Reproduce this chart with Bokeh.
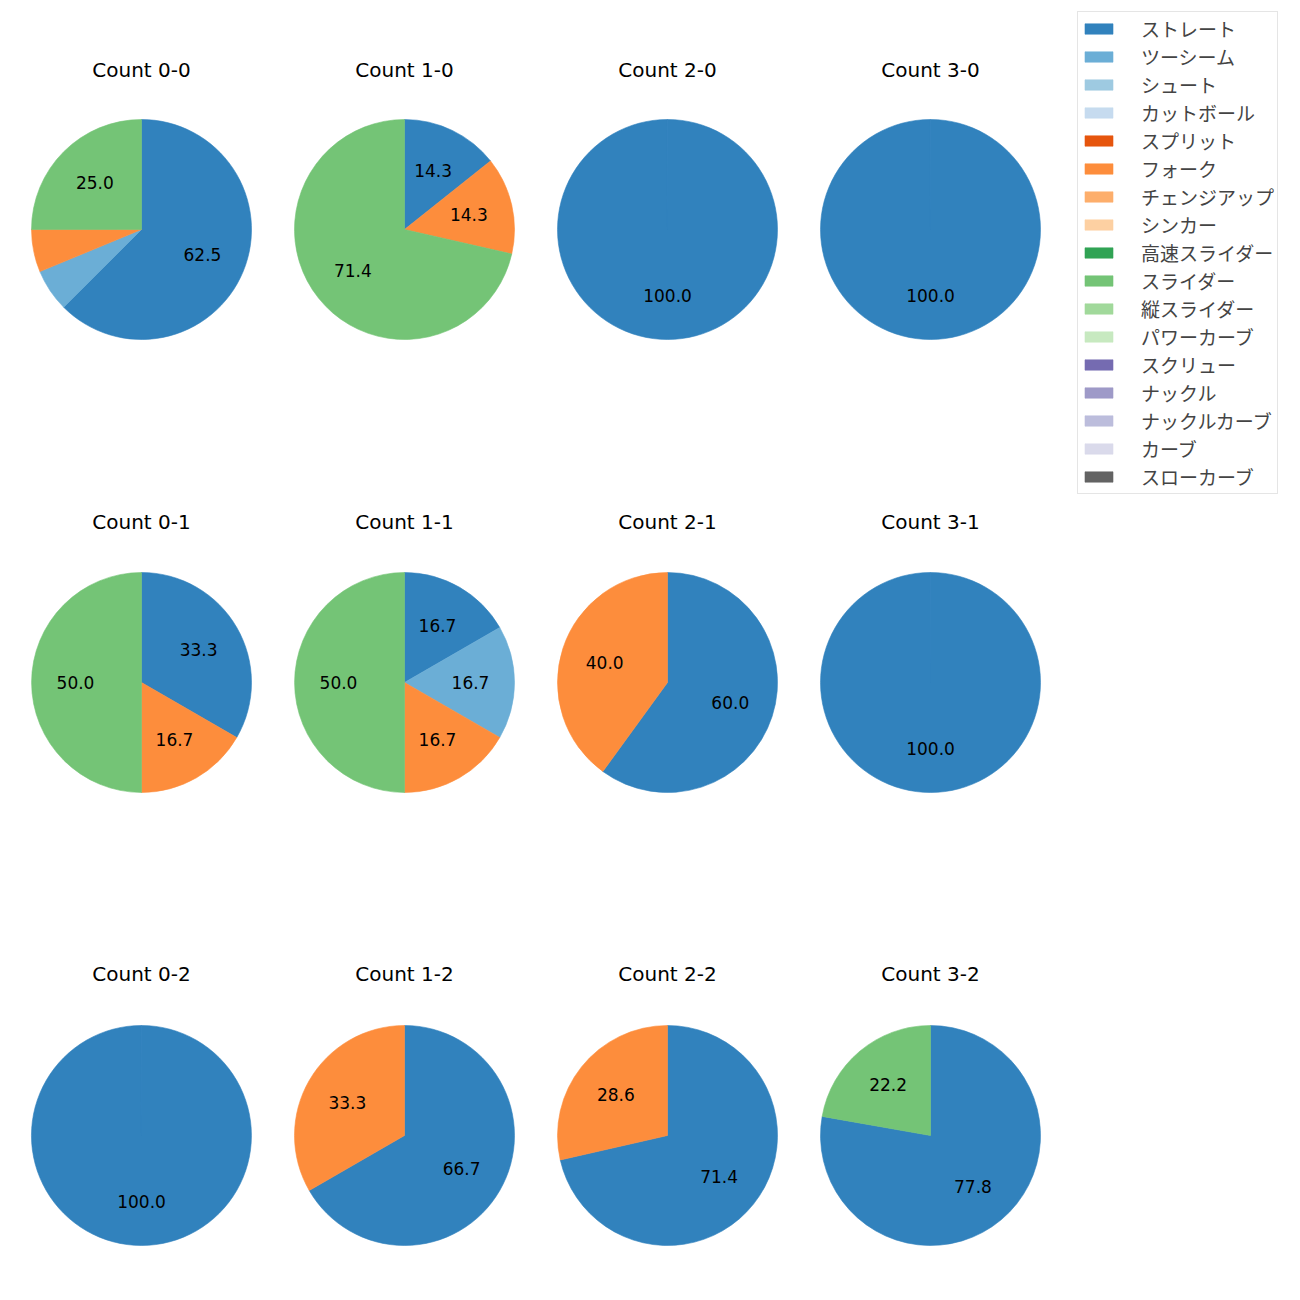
import math
from bokeh.plotting import figure
from bokeh.models import ColumnDataSource, Legend, LegendItem, Range1d
from bokeh.core.properties import value
from bokeh.embed import file_html
from bokeh.resources import INLINE

# ---- data ----
pitch_types = ["ストレート", "ツーシーム", "シュート", "カットボール", "スプリット", "フォーク",
               "チェンジアップ", "シンカー", "高速スライダー", "スライダー", "縦スライダー",
               "パワーカーブ", "スクリュー", "ナックル", "ナックルカーブ", "カーブ", "スローカーブ"]
colors = ["#3182bd", "#6baed6", "#9ecae1", "#c6dbef", "#e6550d", "#fd8d3c", "#fdae6b", "#fdd0a2",
          "#31a354", "#74c476", "#a1d99b", "#c7e9c0", "#756bb1", "#9e9ac8", "#bcbddc", "#dadaeb",
          "#636363"]
count_labels = ["Count 0-0", "Count 1-0", "Count 2-0", "Count 3-0",
                "Count 0-1", "Count 1-1", "Count 2-1", "Count 3-1",
                "Count 0-2", "Count 1-2", "Count 2-2", "Count 3-2"]
# pitches per count (only non-zero types listed)
count_0_0 = {"ストレート": 10, "ツーシーム": 1, "フォーク": 1, "スライダー": 4}
count_1_0 = {"ストレート": 1, "フォーク": 1, "スライダー": 5}
count_2_0 = {"ストレート": 1}
count_3_0 = {"ストレート": 1}
count_0_1 = {"ストレート": 2, "フォーク": 1, "スライダー": 3}
count_1_1 = {"ストレート": 1, "ツーシーム": 1, "フォーク": 1, "スライダー": 3}
count_2_1 = {"ストレート": 3, "フォーク": 2}
count_3_1 = {"ストレート": 1}
count_0_2 = {"ストレート": 1}
count_1_2 = {"ストレート": 2, "フォーク": 1}
count_2_2 = {"ストレート": 5, "フォーク": 2}
count_3_2 = {"ストレート": 7, "スライダー": 2}
counts = [count_0_0, count_1_0, count_2_0, count_3_0,
          count_0_1, count_1_1, count_2_1, count_3_1,
          count_0_2, count_1_2, count_2_2, count_3_2]

# ---- layout (page pixels) ----
W = 1284
col_x = [141, 404, 667, 930]
row_y = [229, 682, 1135]
title_y = [69, 521, 973]
R = 110
LATIN = "DejaVu Sans"
CJK = "Noto Sans CJK JP"

def fy(py):
    return 1300 - py

p = figure(width=W, height=W, output_backend="svg", toolbar_location=None,
           x_range=Range1d(0, W), y_range=Range1d(1300 - W, 1300),
           min_border=0)
p.axis.visible = False
p.xgrid.visible = False
p.ygrid.visible = False
p.outline_line_color = None
p.background_fill_color = "white"

wedge_data = {t: dict(x=[], y=[], start=[], end=[]) for t in pitch_types}
lab = dict(x=[], y=[], text=[])
ttl = dict(x=[], y=[], text=[])

for i, (name, cdict) in enumerate(zip(count_labels, counts)):
    r, c = divmod(i, 4)
    cx, cy = col_x[c], fy(row_y[r])
    ttl["x"].append(cx); ttl["y"].append(fy(title_y[r])); ttl["text"].append(name)
    total = sum(cdict.values())
    cum = 0.0
    for t in pitch_types:
        v = cdict.get(t, 0)
        if v == 0:
            continue
        f0 = cum / total
        f1 = (cum + v) / total
        cum += v
        a0 = math.pi / 2 - 2 * math.pi * f0
        a1 = math.pi / 2 - 2 * math.pi * f1
        if a0 - a1 > 2 * math.pi - 1e-3:
            a1 = a0 - (2 * math.pi - 1e-3)
        d = wedge_data[t]
        d["x"].append(cx); d["y"].append(cy); d["start"].append(a0); d["end"].append(a1)
        pct = 100.0 * v / total
        if pct >= 10:
            mid = (a0 + a1) / 2
            lab["x"].append(cx + 0.6 * R * math.cos(mid))
            lab["y"].append(cy + 0.6 * R * math.sin(mid))
            lab["text"].append("%.1f" % pct)

items = []
for t, col in zip(pitch_types, colors):
    d = wedge_data[t]
    if not d["x"]:
        # placeholder row (not drawn) so that the legend swatch is rendered
        d = dict(x=[float("nan")], y=[float("nan")], start=[0.0], end=[0.0])
    src = ColumnDataSource(d)
    rr = p.wedge(x="x", y="y", radius=R, start_angle="start", end_angle="end",
                 direction="clock", fill_color=col, line_color=col, line_width=0.6,
                 source=src)
    items.append(LegendItem(label=t, renderers=[rr]))

p.text(x="x", y="y", text="text", source=ColumnDataSource(lab),
       text_align="center", text_baseline="middle", text_font=value(LATIN),
       text_font_size="17px", text_color="black")
p.text(x="x", y="y", text="text", source=ColumnDataSource(ttl),
       text_align="center", text_baseline="middle", text_font=value(LATIN),
       text_font_size="20px", text_color="black")

legend = Legend(items=items, location=(1077, 790), orientation="vertical",
                glyph_width=35, glyph_height=13, label_height=20, spacing=1,
                padding=3, label_standoff=25, margin=0,
                label_text_font=CJK, label_text_font_size="19px",
                border_line_color="#cccccc", border_line_width=1,
                background_fill_color="white", background_fill_alpha=1.0)
p.add_layout(legend, "center")

open("out.html", "w").write(file_html(p, INLINE))
